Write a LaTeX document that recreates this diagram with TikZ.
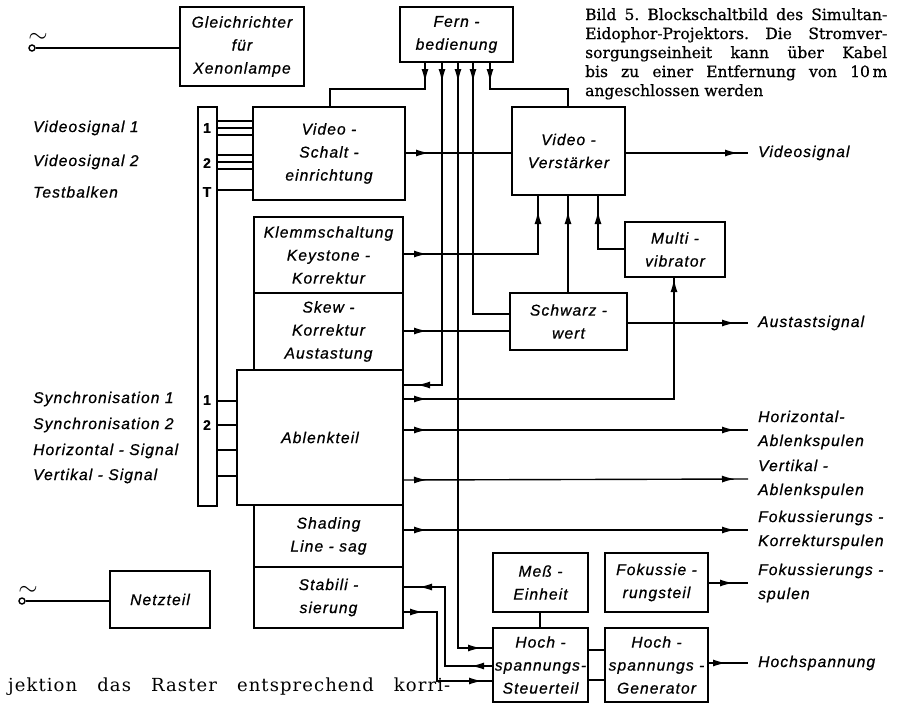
\documentclass[tikz,border=0pt]{standalone}
\usepackage{fontspec}
\setmainfont{DejaVu Serif}
\newfontfamily\blkfont[LetterSpace=7, FakeBold=0.7]{Liberation Sans}
\newfontfamily\capfont[FakeBold=0.6]{DejaVu Serif}
\newfontfamily\botfont[LetterSpace=6]{DejaVu Serif}
\usetikzlibrary{arrows.meta,decorations.markings}
\tikzset{
  blk/.style={draw, line width=2.6pt, inner sep=0pt, outer sep=0pt, align=center,
    font=\blkfont\itshape\fontsize{15.6}{23}\selectfont},
  wire/.style={line width=1.4pt},
  arr/.style={postaction={decorate, decoration={markings,
    mark=at position #1 with {\arrow{Latex[length=13pt,width=7pt]}}}}},
  lbl/.style={inner sep=0pt, align=left, font=\blkfont\itshape\fontsize{15.6}{24}\selectfont},
  stripnum/.style={inner sep=0pt, font=\blkfont\bfseries\fontsize{14}{16}\selectfont},
  captext/.style={inner sep=0pt, anchor=base west, font=\capfont\fontsize{15.5}{19}\selectfont},
  acsym/.style={circle, draw, line width=1.4pt, minimum size=6pt, inner sep=0pt},
}
\newcommand\blkbox[6]{\node[blk, minimum width={(#4-#2)*1pt}, minimum height={(#5-#3)*1pt}] (#1) at ({(#2+#4)/2},{(#3+#5)/2}) {#6};}
\begin{document}
\begin{tikzpicture}[x=1pt, y=-1pt]
\fill[white] (0,0) rectangle (906,705);
\useasboundingbox (0,0) rectangle (906,705);

% boxes
\blkbox{gl}{180}{7}{304}{86}{Gleichrichter\\für\\Xenonlampe}
\blkbox{fb}{400}{7}{513}{62}{Fern -\\bedienung}
\blkbox{strip}{198}{107}{217}{506}{}
\blkbox{vse}{253}{107}{405}{200}{Video -\\Schalt -\\einrichtung}
\blkbox{vv}{512}{107}{625}{195}{Video -\\Verstärker}
\blkbox{kl}{254}{217}{403}{293}{Klemmschaltung\\Keystone -\\Korrektur}
\blkbox{sk}{254}{293}{403}{370}{Skew -\\Korrektur\\Austastung}
\blkbox{ab}{237}{370}{403}{505}{Ablenkteil}
\blkbox{sh}{254}{505}{403}{567}{Shading\\Line - sag}
\blkbox{st}{254}{567}{403}{628}{Stabili -\\sierung}
\blkbox{nt}{110}{571}{210}{628}{Netzteil}
\blkbox{mv}{625}{222}{725}{277}{Multi -\\vibrator}
\blkbox{sw}{510}{293}{627}{350}{Schwarz -\\wert}
\blkbox{me}{493}{553}{588}{612}{Meß -\\Einheit}
\blkbox{fk}{605}{553}{708}{612}{Fokussie -\\rungsteil}
\blkbox{hs}{493}{628}{588}{702}{Hoch -\\spannungs-\\Steuerteil}
\blkbox{hg}{605}{628}{708}{702}{Hoch -\\spannungs -\\Generator}

% strip numbers
\node[stripnum] (n1) at (207,128) {1};
\node[stripnum] (n2) at (207,163) {2};
\node[stripnum] (nT) at (207,192) {T};
\node[stripnum] (n3) at (207,400) {1};
\node[stripnum] (n4) at (207,425) {2};

% left labels
\node[lbl, anchor=west] (Lv1) at (33,128) {Videosignal 1};
\node[lbl, anchor=west] (Lv2) at (33,162) {Videosignal 2};
\node[lbl, anchor=west] (Ltb) at (33,192) {Testbalken};
\node[lbl, anchor=west] (Ls1) at (33,399) {Synchronisation 1};
\node[lbl, anchor=west] (Ls2) at (33,425) {Synchronisation 2};
\node[lbl, anchor=west] (Lhs1) at (33,451) {Horizontal - Signal};
\node[lbl, anchor=west] (Lvs1) at (33,476) {Vertikal - Signal};

% right labels
\node[lbl, anchor=west] (Lvid) at (758,153) {Videosignal};
\node[lbl, anchor=west] (Laus) at (758,323) {Austastsignal};
\node[lbl, anchor=west] (Lhor) at (758,430) {Horizontal-\\Ablenkspulen};
\node[lbl, anchor=west] (Lver) at (758,479) {Vertikal -\\Ablenkspulen};
\node[lbl, anchor=west] (Lfkk) at (758,530) {Fokussierungs -\\Korrekturspulen};
\node[lbl, anchor=west] (Lfks) at (758,583) {Fokussierungs -\\spulen};
\node[lbl, anchor=west] (Lhsp) at (758,663) {Hochspannung};

% AC inputs
\node[acsym] (ac1) at (32,48) {};
\node[inner sep=0pt, font=\fontsize{24}{24}\selectfont] (t1) at (38,38) {$\sim$};
\draw[wire] (ac1.east) -- (gl.west |- ac1.east);
\node[acsym] (ac2) at (22,601) {};
\node[inner sep=0pt, font=\fontsize{24}{24}\selectfont] (t2) at (28,591) {$\sim$};
\draw[wire] (ac2.east) -- (nt.west |- ac2.east);

% strip connections
\foreach \yy in {121,128,135,155,162,169,190}
  \draw[wire] (strip.east |- 0,\yy) -- (vse.west |- 0,\yy);
\foreach \yy in {401,425,450,476}
  \draw[wire] (strip.east |- 0,\yy) -- (ab.west |- 0,\yy);

% Fernbedienung lines
\draw[wire, arr=20pt] (fb.south -| 425,0) |- (330,89) -- (vse.north -| 330,0);
\draw[wire, arr=20pt] (fb.south -| 490,0) |- (568,89) -- (vv.north -| 568,0);
\draw[wire, arr=20pt, arr=-14pt] (fb.south -| 442,0) |- (ab.east |- 0,385);
\draw[wire, arr=20pt, arr=-12pt] (fb.south -| 458,0) |- (hs.west |- 0,648);
\draw[wire, arr=20pt] (fb.south -| 473,0) |- (sw.west |- 0,314);

% signal paths
\draw[wire, arr=24pt] (vse.east |- 0,153) -- (vv.west |- 0,153);
\draw[wire, arr=-10pt] (vv.east |- 0,153) -- ([xshift=-10pt]Lvid.west);
\draw[wire, arr=24pt, arr=-16pt] (kl.east |- 0,254) -| (vv.south -| 538,0);
\draw[wire, arr=-16pt] (sw.north -| 568,0) -- (vv.south -| 568,0);
\draw[wire, arr=-16pt] (mv.west |- 0,249) -| (vv.south -| 598,0);
\draw[wire, arr=24pt] (sk.east |- 0,331) -- (sw.west |- 0,331);
\draw[wire, arr=-13pt] (sw.east |- 0,323) -- ([xshift=-10pt]Laus.west);
\draw[wire, arr=24pt, arr=-2pt] (ab.east |- 0,399) -| (mv.south -| 674,0);
\draw[wire, arr=24pt, arr=-13pt] (ab.east |- 0,430) -- ([xshift=-10pt]Lhor.west);
\draw[wire, arr=24pt, arr=-13pt] (ab.east |- 0,480) -- ([xshift=-10pt]Lver.west);
\draw[wire, arr=24pt, arr=-13pt] (sh.east |- 0,530) -- ([xshift=-10pt]Lfkk.west);
\draw[wire, arr=25pt] (fk.east |- 0,583) -- ([xshift=-10pt]Lfks.west);
\draw[wire, arr=18pt] (hg.east |- 0,663) -- ([xshift=-10pt]Lhsp.west);
\draw[wire] (me.south -| 540,0) -- (hs.north -| 540,0);
\draw[wire] (hs.east |- 0,650) -- (hg.west |- 0,650);
\draw[wire] (hs.east |- 0,680) -- (hg.west |- 0,680);
\draw[wire, arr=22pt, arr=-16pt] (hs.west |- 0,666) -| (445,587) -- (st.east |- 0,587);
\draw[wire, arr=20pt, arr=-11pt] (st.east |- 0,612) -| (437,681) -- (hs.west |- 0,681);

% caption
\node[captext] (c1) at (585,20) {\hbox to 302pt{Bild\hfil\ 5.\hfil\ Blockschaltbild\hfil\ des\hfil\ Simultan-}};
\node[captext] (c2) at (585,39) {\hbox to 302pt{Eidophor-Projektors.\hfil\ Die\hfil\ Stromver-}};
\node[captext] (c3) at (585,58) {\hbox to 302pt{sorgungseinheit\hfil\ kann\hfil\ über\hfil\ Kabel}};
\node[captext] (c4) at (585,77) {\hbox to 302pt{bis\hfil\ zu\hfil\ einer\hfil\ Entfernung\hfil\ von\hfil\ 10\,m}};
\node[captext] (c5) at (585,96) {angeschlossen werden};

% bottom text
\node[inner sep=0pt, anchor=base west, font=\botfont\fontsize{18}{20}\selectfont] (bot) at (8,691)
  {\hbox to 442pt{jektion\hfill das\hfill Raster\hfill entsprechend\hfill korri-}};
\end{tikzpicture}
\end{document}
